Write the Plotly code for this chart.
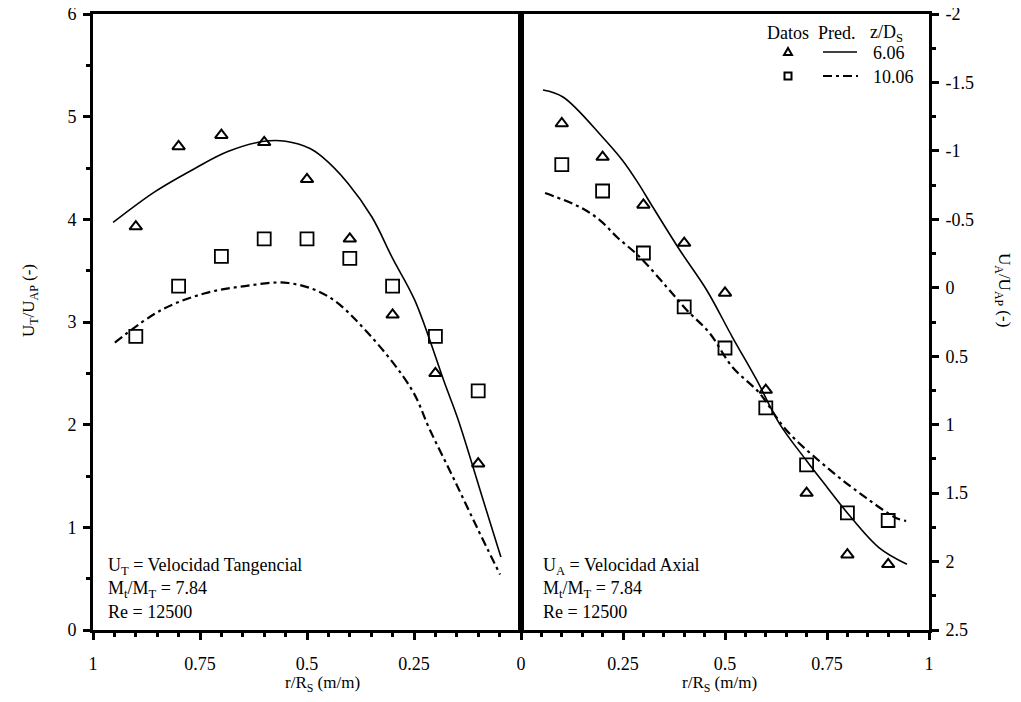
import plotly.graph_objects as go

# ---------------- data ----------------
r_left = [0.9, 0.8, 0.7, 0.6, 0.5, 0.4, 0.3, 0.2, 0.1]
r_right = [0.1, 0.2, 0.3, 0.4, 0.5, 0.6, 0.7, 0.8, 0.9]

# Left panel: tangential velocity U_T/U_AP (ordered as r_left)
ut_606 = [3.93, 4.71, 4.82, 4.75, 4.39, 3.81, 3.07, 2.50, 1.62]
ut_1006 = [2.86, 3.35, 3.64, 3.81, 3.81, 3.62, 3.35, 2.86, 2.33]

ut_pred_606_r = [0.953, 0.855, 0.76, 0.685, 0.60, 0.55, 0.493, 0.465, 0.404, 0.348, 0.30, 0.248, 0.178, 0.147, 0.091, 0.047]
ut_pred_606 = [3.97, 4.27, 4.50, 4.66, 4.76, 4.76, 4.69, 4.61, 4.35, 4.02, 3.62, 3.21, 2.40, 2.05, 1.30, 0.71]

ut_pred_1006_r = [0.949, 0.839, 0.738, 0.645, 0.544, 0.451, 0.357, 0.255, 0.213, 0.159, 0.103, 0.049]
ut_pred_1006 = [2.80, 3.12, 3.28, 3.35, 3.38, 3.25, 2.89, 2.34, 1.95, 1.49, 1.00, 0.54]

# Right panel: axial velocity U_A/U_AP (ordered as r_right)
ua_606 = [-1.20, -0.955, -0.605, -0.327, 0.038, 0.747, 1.50, 1.95, 2.02]
ua_1006 = [-0.90, -0.707, -0.254, 0.140, 0.44, 0.878, 1.294, 1.645, 1.70]

ua_pred_606_r = [0.054, 0.103, 0.2, 0.249, 0.286, 0.323, 0.389, 0.455, 0.518, 0.577, 0.633, 0.699, 0.751, 0.80, 0.878, 0.946]
ua_pred_606 = [-1.445, -1.394, -1.10, -0.93, -0.77, -0.59, -0.276, 0.016, 0.36, 0.67, 0.99, 1.26, 1.46, 1.645, 1.90, 2.02]

ua_pred_1006_r = [0.059, 0.144, 0.193, 0.235, 0.291, 0.357, 0.406, 0.462, 0.518, 0.584, 0.650, 0.760, 0.846, 0.919, 0.944]
ua_pred_1006 = [-0.692, -0.590, -0.495, -0.371, -0.225, -0.006, 0.162, 0.330, 0.579, 0.768, 1.039, 1.338, 1.535, 1.681, 1.703]

x_left_ticks = [1, 0.75, 0.5, 0.25]
x_left_text = ["1", "0.75", "0.5", "0.25"]
x_right_ticks = [0, 0.25, 0.5, 0.75, 1]
x_right_text = ["0", "0.25", "0.5", "0.75", "1"]
y_left_ticks = [0, 1, 2, 3, 4, 5, 6]
y_right_ticks = [-2, -1.5, -1, -0.5, 0, 0.5, 1, 1.5, 2, 2.5]
y_right_text = ["-2", "-1.5", "-1", "-0.5", "0", "0.5", "1", "1.5", "2", "2.5"]

# ---------------- figure ----------------
FONT = "Liberation Serif"
OFF = 8  # page body margin
W, H = 1005, 686
ML, MT = 93 - OFF, 14 - OFF
MR = W - (929 - OFF)
MB = H - (630 - OFF)
PW = W - ML - MR
PH = H - MT - MB
split = (521 - 93) / PW


def px(x):
    return (x - OFF - ML) / PW


def py(y):
    return (H - MB - (y - OFF)) / PH


fig = go.Figure()

solid = dict(color="black", width=1.6)
dashd = dict(color="black", width=2.2, dash="9px,4px,3px,4px")
tri = dict(symbol="triangle-up-open", size=11, color="black", line=dict(width=2, color="black"))
sq = dict(symbol="square-open", size=13, color="black", line=dict(width=1.8, color="black"))

fig.add_trace(go.Scatter(x=ut_pred_606_r, y=ut_pred_606, mode="lines", line=solid, xaxis="x", yaxis="y", line_shape="spline"))
fig.add_trace(go.Scatter(x=ut_pred_1006_r, y=ut_pred_1006, mode="lines", line=dashd, xaxis="x", yaxis="y", line_shape="spline"))
fig.add_trace(go.Scatter(x=r_left, y=ut_606, mode="markers", marker=tri, xaxis="x", yaxis="y"))
fig.add_trace(go.Scatter(x=r_left, y=ut_1006, mode="markers", marker=sq, xaxis="x", yaxis="y"))

fig.add_trace(go.Scatter(x=ua_pred_606_r, y=ua_pred_606, mode="lines", line=solid, xaxis="x2", yaxis="y2", line_shape="spline"))
fig.add_trace(go.Scatter(x=ua_pred_1006_r, y=ua_pred_1006, mode="lines", line=dashd, xaxis="x2", yaxis="y2", line_shape="spline"))
fig.add_trace(go.Scatter(x=r_right, y=ua_606, mode="markers", marker=tri, xaxis="x2", yaxis="y2"))
fig.add_trace(go.Scatter(x=r_right, y=ua_1006, mode="markers", marker=sq, xaxis="x2", yaxis="y2"))

tickfont = dict(family=FONT, size=18, color="black")
axis_common = dict(showgrid=False, zeroline=False, showline=True, linecolor="black", linewidth=3,
                   ticks="outside", tickwidth=3, tickcolor="black", ticklen=7, tickfont=tickfont,
                   automargin=False, ticklabeloverflow="allow")

fig.update_layout(
    width=W, height=H,
    margin=dict(l=ML, r=MR, t=MT, b=MB, autoexpand=False),
    paper_bgcolor="white", plot_bgcolor="white",
    showlegend=False,
    font=dict(family=FONT, size=18, color="black"),
    xaxis=dict(domain=[0, split], range=[1, 0], anchor="y", mirror=True,
               tickmode="array", tickvals=x_left_ticks, ticktext=x_left_text,
               minor=dict(dtick=0.05, tick0=0, ticks="outside", ticklen=4, tickwidth=3, tickcolor="black"),
               ticklabelstandoff=8, **axis_common),
    xaxis2=dict(domain=[split, 1], range=[0, 1], anchor="y2", mirror=True,
                tickmode="array", tickvals=x_right_ticks, ticktext=x_right_text,
                minor=dict(dtick=0.05, tick0=0, ticks="outside", ticklen=4, tickwidth=3, tickcolor="black"),
                ticklabelstandoff=8, **axis_common),
    yaxis=dict(domain=[0, 1], range=[0, 6], anchor="x", mirror=True,
               tickmode="array", tickvals=y_left_ticks,
               minor=dict(dtick=0.5, tick0=0, ticks="outside", ticklen=4, tickwidth=3, tickcolor="black"),
               ticklabelstandoff=3, **axis_common),
    yaxis2=dict(domain=[0, 1], range=[2.5, -2], anchor="x2", side="right", mirror=True,
                tickmode="array", tickvals=y_right_ticks, ticktext=y_right_text,
                minor=dict(dtick=0.25, tick0=0, ticks="outside", ticklen=4, tickwidth=3, tickcolor="black"),
                ticklabelstandoff=3, **axis_common),
)

# thick centre divider
fig.add_shape(type="line", xref="paper", yref="paper", x0=split, x1=split, y0=0, y1=1,
              line=dict(color="black", width=5))

ann = []


def text(x, y, s, xanchor="left", angle=0, size=18):
    ann.append(dict(x=px(x), y=py(y), xref="paper", yref="paper", text=s, showarrow=False,
                    xanchor=xanchor, yanchor="middle", textangle=angle,
                    font=dict(family=FONT, size=size, color="black")))


# axis titles
text(30, 300, "U<sub>T</sub>/U<sub>AP</sub> (-)", xanchor="center", angle=-90, size=17)
text(1003, 290, "U<sub>A</sub>/U<sub>AP</sub> (-)", xanchor="center", angle=90, size=17)
text(322, 684, "r/R<sub>S</sub> (m/m)", xanchor="center", size=17)
text(719, 684, "r/R<sub>S</sub> (m/m)", xanchor="center", size=17)

# panel notes
text(106, 566, "U<sub>T</sub> = Velocidad Tangencial")
text(106, 589, "M<sub>t</sub>/M<sub>T</sub> = 7.84")
text(106, 612, "Re = 12500")
text(541, 566, "U<sub>A</sub> = Velocidad Axial")
text(541, 589, "M<sub>t</sub>/M<sub>T</sub> = 7.84")
text(541, 612, "Re = 12500")

# legend block
text(788, 33, "Datos", xanchor="center")
text(837, 33, "Pred.", xanchor="center")
text(886, 33, "z/D<sub>S</sub>", xanchor="center")
text(871, 53, "6.06")
text(871, 77, "10.06")

fig.update_layout(annotations=ann)

# legend sample symbols
fig.add_shape(type="path", xref="paper", yref="paper", xsizemode="pixel", ysizemode="pixel",
              xanchor=px(788), yanchor=py(52), path="M-4,-3 L4,-3 L0,4 Z",
              line=dict(color="black", width=2))
fig.add_shape(type="rect", xref="paper", yref="paper", xsizemode="pixel", ysizemode="pixel",
              xanchor=px(788), yanchor=py(76), x0=-3.5, x1=3.5, y0=-3.5, y1=3.5,
              line=dict(color="black", width=2))
fig.add_shape(type="line", xref="paper", yref="paper", x0=px(823), x1=px(857), y0=py(52), y1=py(52),
              line=dict(color="black", width=1.6))
fig.add_shape(type="line", xref="paper", yref="paper", x0=px(823), x1=px(858), y0=py(76), y1=py(76),
              line=dict(color="black", width=2.2, dash="9px,4px,3px,4px"))

fig.write_html("out.html")
